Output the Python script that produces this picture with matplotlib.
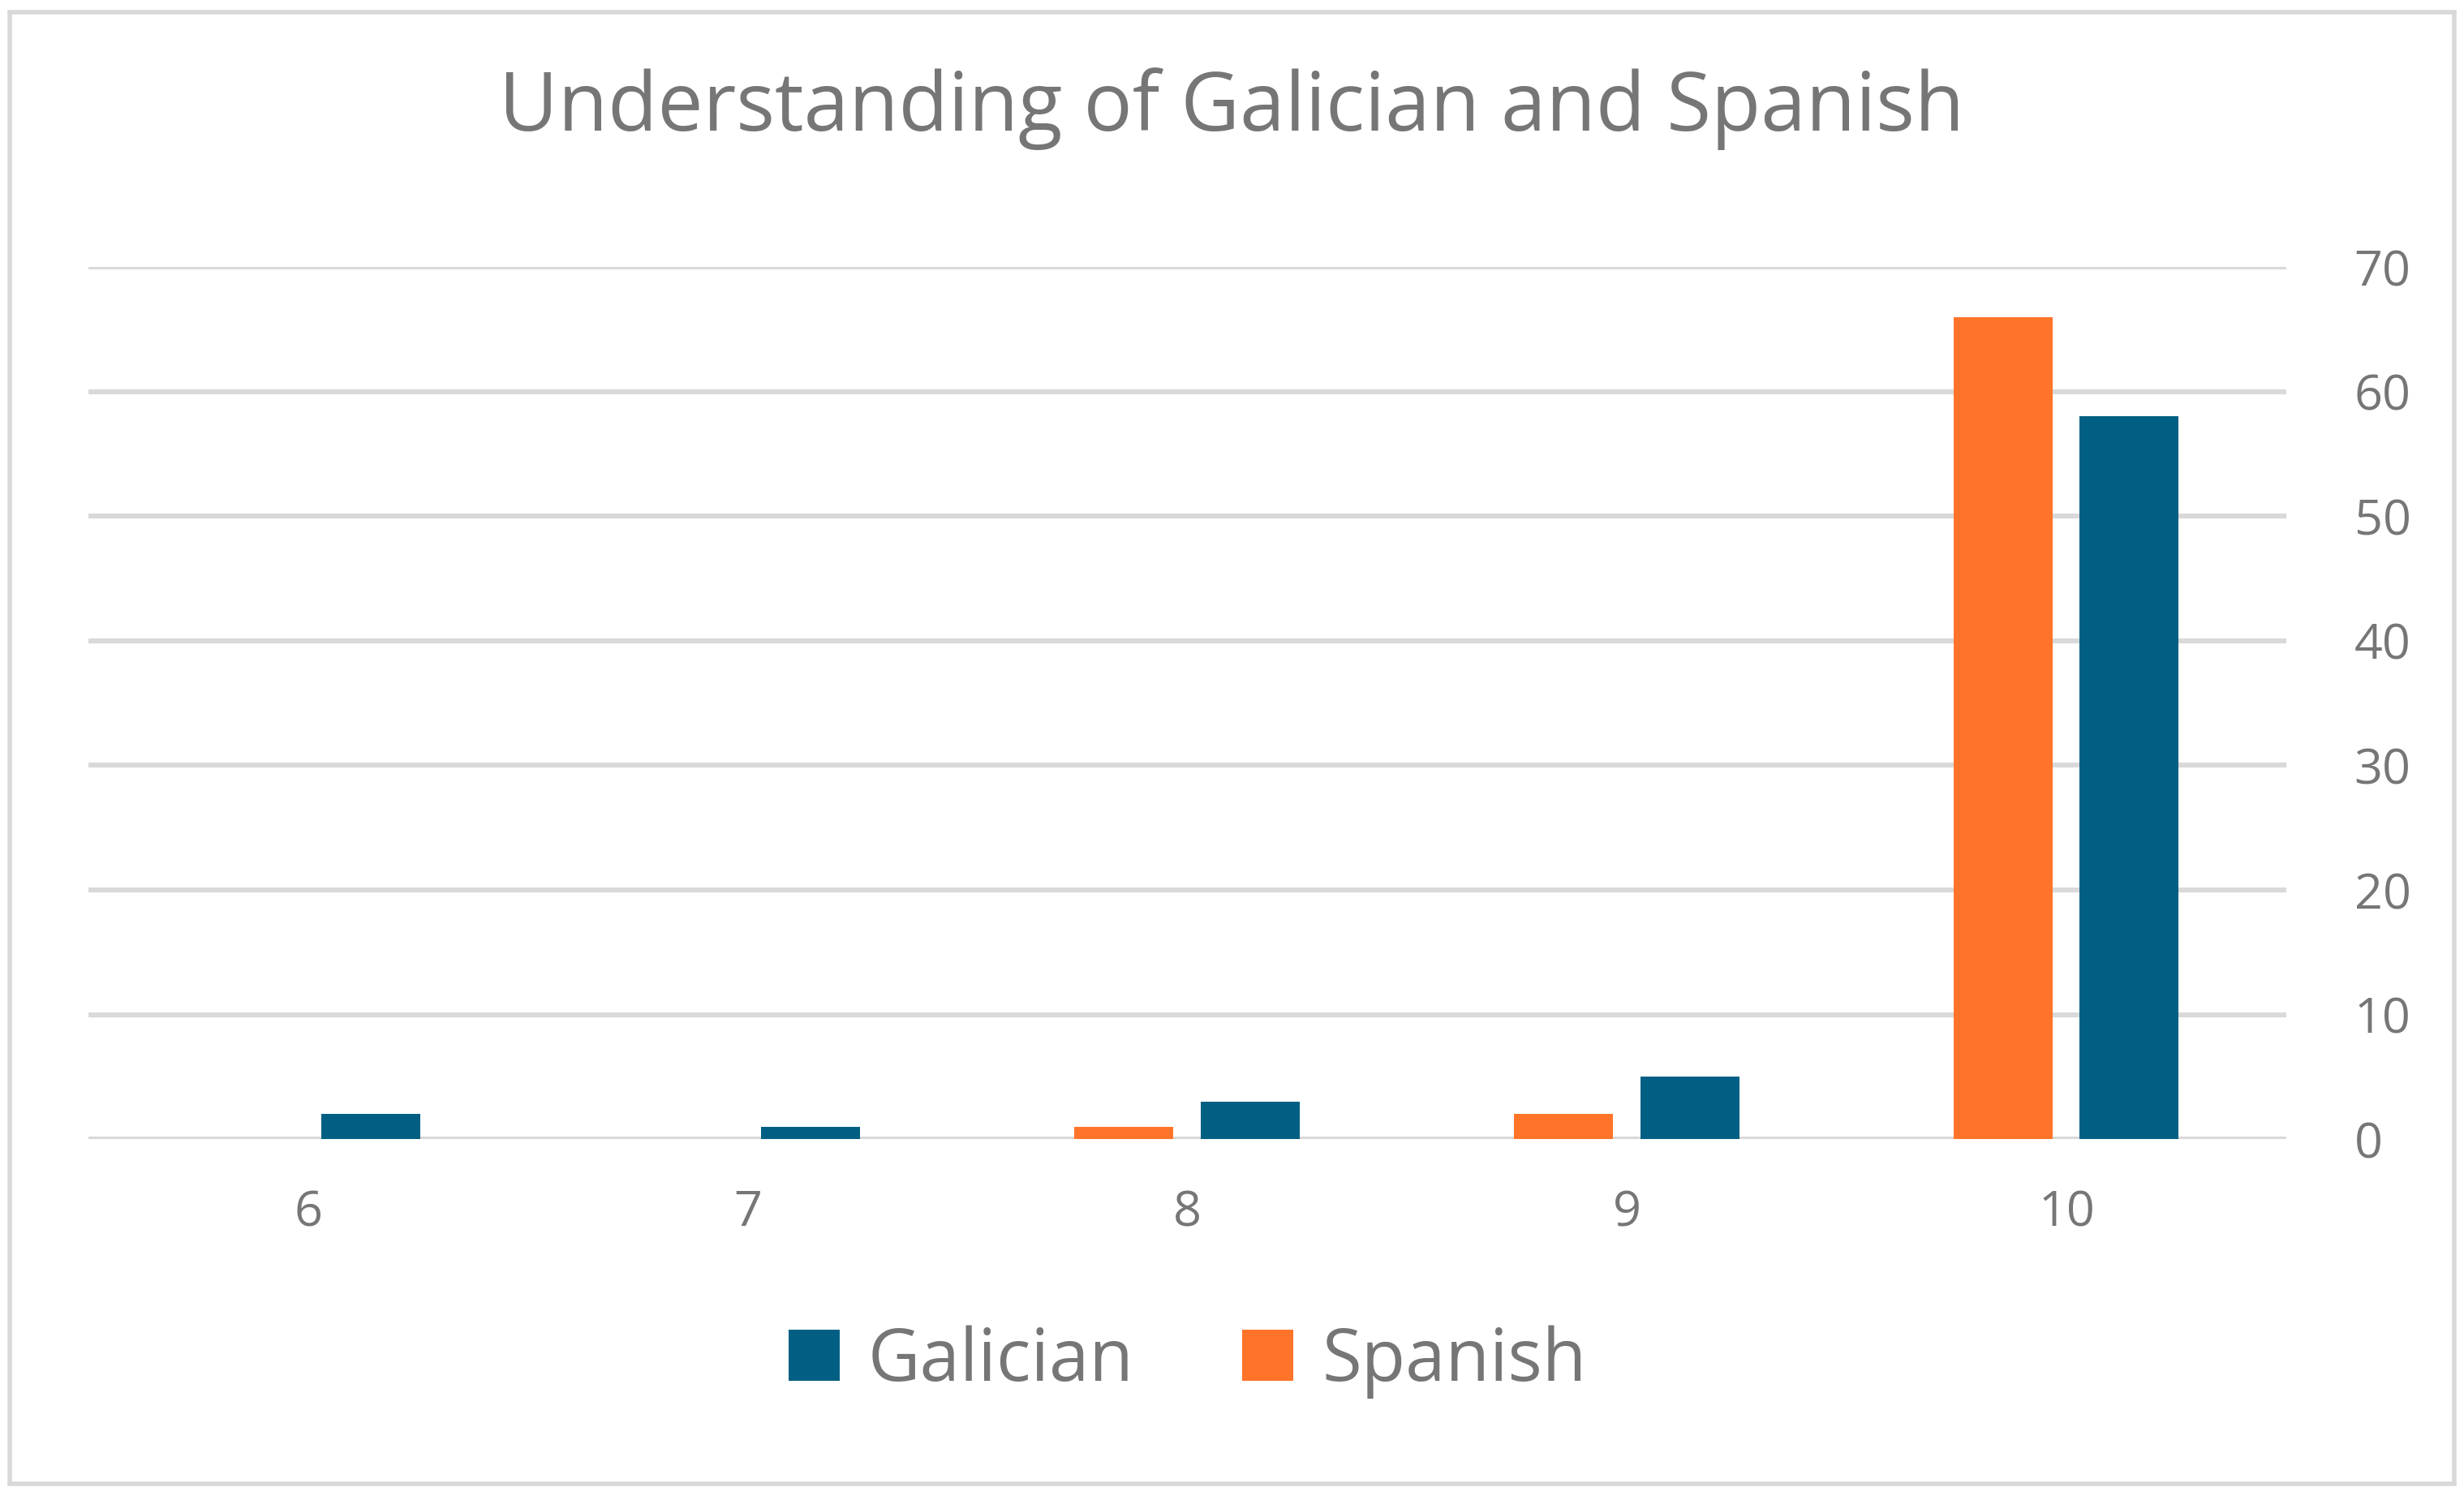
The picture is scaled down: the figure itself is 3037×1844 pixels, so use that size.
import matplotlib.pyplot as plt
import numpy as np
from matplotlib.patches import Rectangle

categories = ["6", "7", "8", "9", "10"]
galician = [2, 1, 3, 5, 58]
spanish = [0, 0, 1, 2, 66]

text_color = "#767676"
grid_color = "#D9D9D9"
galician_color = "#005F83"
spanish_color = "#FF7429"

plt.rcParams["font.family"] = ["Open Sans", "DejaVu Sans"]

fig = plt.figure(figsize=(15.185, 9.22), dpi=200)
ax = fig.add_axes([0.036, 0.2385, 0.892, 0.583])

x = np.arange(len(categories))
width = 0.225
ax.bar(x + 0.142, galician, width, color=galician_color, label="Galician", zorder=3)
ax.bar(x - 0.145, spanish, width, color=spanish_color, label="Spanish", zorder=3)

ax.set_xlim(-0.5, len(categories) - 0.5)
ax.set_ylim(0, 70)
ax.set_yticks(range(0, 71, 10))
ax.yaxis.tick_right()
ax.set_xticks(x)
ax.set_xticklabels(categories)
ax.tick_params(axis="both", length=0, labelsize=22, labelcolor=text_color)
ax.tick_params(axis="y", pad=30)
ax.tick_params(axis="x", pad=22)
ax.grid(axis="y", color=grid_color, linewidth=2.2, zorder=0)
for s in ax.spines.values():
    s.set_visible(False)

fig.suptitle("Understanding of Galician and Spanish", y=0.955, fontsize=36,
             color=text_color)
ax.legend(loc="center", bbox_to_anchor=(0.5, -0.255), ncol=2, frameon=False,
          fontsize=32, labelcolor=text_color, handlelength=0.7, handleheight=0.7,
          columnspacing=1.5, handletextpad=0.4)

fig.patches.append(Rectangle((0.004, 0.008), 0.992, 0.984, transform=fig.transFigure,
                             fill=False, edgecolor=grid_color, linewidth=2))

fig.savefig("out.png", dpi=200, facecolor="white")
